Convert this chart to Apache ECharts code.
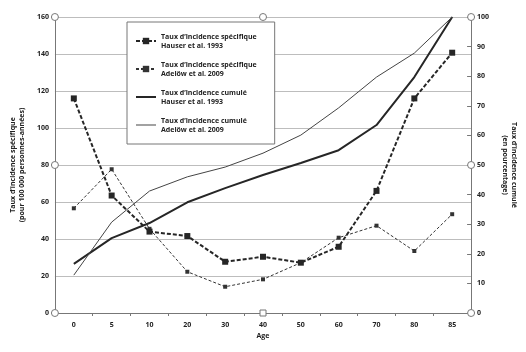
<!DOCTYPE html>
<html>
<head>
<meta charset="utf-8">
<script src="https://cdn.jsdelivr.net/npm/echarts@6/dist/echarts.min.js"></script>
<style>
html,body{margin:0;padding:0;background:#fff;}
#main{width:526px;height:352px;}
</style>
</head>
<body>
<div id="main"></div>
<script>
var ages = ['0', '5', '10', '20', '30', '40', '50', '60', '70', '80', '85'];
// taux specifique (pour 100 000 personnes-annees), axe gauche
var hauserSpec = [116, 63.5, 44, 41.6, 27.7, 30.4, 27.2, 35.8, 66, 116, 140.7];
var adelowSpec = [56.6, 77.7, 45.5, 22.3, 14.2, 18.2, 27.2, 40.7, 47.2, 33.5, 53.4];
// taux cumule (en pourcentage), axe droit
var hauserCum = [16.6, 25.3, 30.4, 37.4, 42.2, 46.6, 50.7, 55, 63.5, 79.7, 100];
var adelowCum = [12.8, 30.7, 41.2, 46, 49.3, 54, 60.1, 69.3, 79.7, 87.8, 100];
var leftTicks = [0, 20, 40, 60, 80, 100, 120, 140, 160];
var rightTicks = [0, 10, 20, 30, 40, 50, 60, 70, 80, 90, 100];

var names = [
    'Taux d\u2019incidence spécifique\nHauser et al. 1993',
    'Taux d\u2019incidence spécifique\nAdelöw et al. 2009',
    'Taux d\u2019incidence cumulé\nHauser et al. 1993',
    'Taux d\u2019incidence cumulé\nAdelöw et al. 2009'
];

var font = '"Open Sans", "DejaVu Sans", sans-serif';
var lab = {fontFamily: font, fontWeight: 'bold', fontSize: 7, color: '#222'};

var myChart = echarts.init(document.getElementById('main'));
myChart.setOption({
    animation: false,
    textStyle: {fontFamily: font},
    grid: {left: 50, right: 47, top: 17, bottom: 39},
    legend: {
        orient: 'vertical',
        left: 127,
        top: 22,
        padding: [10, 18, 10, 8],
        itemGap: 10,
        itemWidth: 20,
        itemHeight: 8,
        backgroundColor: '#fff',
        borderColor: '#777',
        borderWidth: 1,
        textStyle: {fontFamily: font, fontWeight: 'bold', fontSize: 7, lineHeight: 9, color: '#222'},
        data: [
            {name: names[0]},
            {name: names[1]},
            {name: names[2], icon: 'path://M0,0H20V2H0Z'},
            {name: names[3], icon: 'path://M0,0H20V1H0Z'}
        ]
    },
    xAxis: {
        type: 'category',
        data: ages,
        boundaryGap: true,
        name: 'Age',
        nameLocation: 'middle',
        nameGap: 17,
        nameTextStyle: lab,
        axisLine: {lineStyle: {color: '#777', width: 1}},
        axisTick: {show: true, length: 3, lineStyle: {color: '#777'}},
        axisLabel: Object.assign({margin: 8}, lab)
    },
    yAxis: [{
        type: 'value',
        min: leftTicks[0],
        max: leftTicks[leftTicks.length - 1],
        interval: 20,
        name: 'Taux d\u2019incidence spécifique\n(pour 100 000 personnes-années)',
        nameLocation: 'middle',
        nameRotate: 90,
        nameGap: 22,
        nameTextStyle: Object.assign({lineHeight: 9}, lab),
        axisLine: {show: true, lineStyle: {color: '#777'}},
        axisTick: {show: false},
        axisLabel: Object.assign({margin: 6}, lab),
        splitLine: {show: true, lineStyle: {color: '#bdbdbd', width: 1.2}}
    }, {
        type: 'value',
        min: rightTicks[0],
        max: rightTicks[rightTicks.length - 1],
        interval: 10,
        name: 'Taux d\u2019incidence cumulé\n(en pourcentage)',
        nameLocation: 'middle',
        nameRotate: -90,
        nameGap: 22,
        nameTextStyle: Object.assign({lineHeight: 9}, lab),
        axisLine: {show: true, lineStyle: {color: '#777'}},
        axisTick: {show: true, inside: true, length: 4, lineStyle: {color: '#777'}},
        axisLabel: Object.assign({margin: 6}, lab),
        splitLine: {show: false}
    }],
    series: [{
        name: names[0],
        type: 'line',
        data: hauserSpec,
        yAxisIndex: 0,
        symbol: 'rect',
        symbolSize: 6,
        itemStyle: {color: '#262626'},
        lineStyle: {color: '#262626', width: 2, type: [4, 2]},
        z: 4
    }, {
        name: names[1],
        type: 'line',
        data: adelowSpec,
        yAxisIndex: 0,
        symbol: 'rect',
        symbolSize: 4,
        itemStyle: {color: '#333'},
        lineStyle: {color: '#333', width: 1, type: [3, 2]},
        z: 3
    }, {
        name: names[2],
        type: 'line',
        data: hauserCum,
        yAxisIndex: 1,
        symbol: 'none',
        itemStyle: {color: '#262626'},
        lineStyle: {color: '#262626', width: 2},
        z: 2
    }, {
        name: names[3],
        type: 'line',
        data: adelowCum,
        yAxisIndex: 1,
        symbol: 'none',
        itemStyle: {color: '#444'},
        lineStyle: {color: '#444', width: 1},
        z: 2
    }]
});

// poignees de selection autour de la zone de trace
var rect = myChart.getModel().getComponent('grid').coordinateSystem.getRect();
var hx = [rect.x, rect.x + rect.width / 2, rect.x + rect.width];
var hy = [rect.y, rect.y + rect.height / 2, rect.y + rect.height];
var handles = [];
hx.forEach(function (x, i) {
    hy.forEach(function (y, j) {
        if (i === 1 && j === 1) return;
        if (i === 1 && j === 2) {
            handles.push({type: 'rect', shape: {x: x - 3, y: y - 3, width: 6, height: 6},
                style: {fill: '#fff', stroke: '#777', lineWidth: 1}, z: 100});
        } else {
            handles.push({type: 'circle', shape: {cx: x, cy: y, r: 3.5},
                style: {fill: '#fff', stroke: '#777', lineWidth: 1}, z: 100});
        }
    });
});
myChart.setOption({graphic: handles});
</script>
</body>
</html>
